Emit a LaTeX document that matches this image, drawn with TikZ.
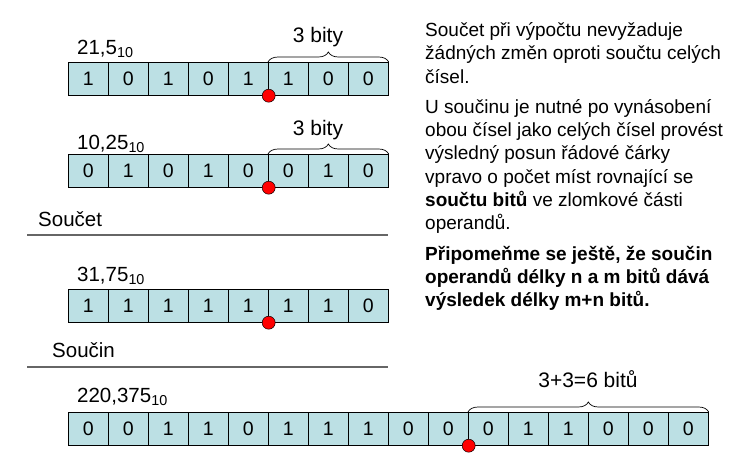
\documentclass[tikz,border=0pt]{standalone}
\usepackage{fontspec}
\setmainfont{Liberation Sans}
\usetikzlibrary{decorations.pathreplacing}
\definecolor{bitfill}{RGB}{188,224,228}

\begin{document}
\begin{tikzpicture}[x=1pt,y=-1pt,font=\fontsize{19.5}{23}\selectfont]
    \tikzset{bit/.style={draw=black, fill=bitfill, line width=0.7pt,
            minimum width=40pt, minimum height=33pt, inner sep=0pt, anchor=north west},
        comma/.style={circle, draw=black, fill=red, minimum size=13pt,
            inner sep=0pt, line width=0.5pt},
        brc/.style={decorate, decoration={brace, amplitude=10pt}, line width=0.7pt},
        num/.style={anchor=base west, inner sep=0pt, font=\fontsize{20.5}{24}\selectfont},
        blbl/.style={anchor=base, inner sep=0pt, font=\fontsize{21}{25}\selectfont},
        part/.style={anchor=base west, inner sep=0pt, font=\fontsize{20.5}{24}\selectfont},
        sep/.style={draw=black!60, line width=1.5pt},}
    \useasboundingbox (0,0) rectangle (748,471);

    % operand 21,5
    \node[num] (la) at (77,54) {21,5\textsubscript{10}};
    \foreach \b [count=\i] in {1,0,1,0,1,1,0,0}
        \node[bit] (a\i) at ({68+40*(\i-1)},62) {\b};
    \draw[brc] (a6.north west) -- (a8.north east);
    \node[blbl] (ta) at (318,42) {3 bity};
    \node[comma] (ca) at (a5.south east) {};

    % operand 10,25
    \node[num] (lb) at (77,149) {10,25\textsubscript{10}};
    \foreach \b [count=\i] in {0,1,0,1,0,0,1,0}
        \node[bit] (b\i) at ({68+40*(\i-1)},154) {\b};
    \draw[brc] (b6.north west) -- (b8.north east);
    \node[blbl] (tb) at (318,135) {3 bity};
    \node[comma] (cb) at (b5.south east) {};

    % soucet
    \node[part] (sa) at (38,226) {Součet};
    \coordinate (sa0) at (27,235);
    \coordinate (sa1) at (388,235);
    \draw[sep] (sa0) -- (sa1);

    \node[num] (lc) at (77,281) {31,75\textsubscript{10}};
    \foreach \b [count=\i] in {1,1,1,1,1,1,1,0}
        \node[bit] (c\i) at ({68+40*(\i-1)},289) {\b};
    \node[comma] (cc) at (c5.south east) {};

    % soucin
    \node[part] (sb) at (52,357) {Součin};
    \coordinate (sb0) at (27,367);
    \coordinate (sb1) at (388,367);
    \draw[sep] (sb0) -- (sb1);

    \node[num] (ld) at (77,402) {220,375\textsubscript{10}};
    \foreach \b [count=\i] in {0,0,1,1,0,1,1,1,0,0,0,1,1,0,0,0}
        \node[bit] (d\i) at ({68+40*(\i-1)},412) {\b};
    \draw[brc] (d11.north west) -- (d16.north east);
    \node[blbl] (td) at (588,387) {3+3=6 bitů};
    \node[comma] (cd) at (d10.south east) {};

    % vysvetleni
    \node[anchor=base west, align=left, inner sep=0pt,
        font=\fontsize{19}{23.3}\selectfont] (txt) at (425,306.7) {%
        Součet při výpočtu nevyžaduje\\
        žádných změn oproti součtu celých\\
        čísel.\\[7pt]
        U součinu je nutné po vynásobení\\
        obou čísel jako celých čísel provést\\
        výsledný posun řádové čárky\\
        vpravo o počet míst rovnající se\\
        \textbf{součtu bitů} ve zlomkové části\\
        operandů.\\[7pt]
        \textbf{Připomeňme se ještě, že součin}\\
        \textbf{operandů délky n a m bitů dává}\\
        \textbf{výsledek délky m+n bitů.}};
\end{tikzpicture}
\end{document}
